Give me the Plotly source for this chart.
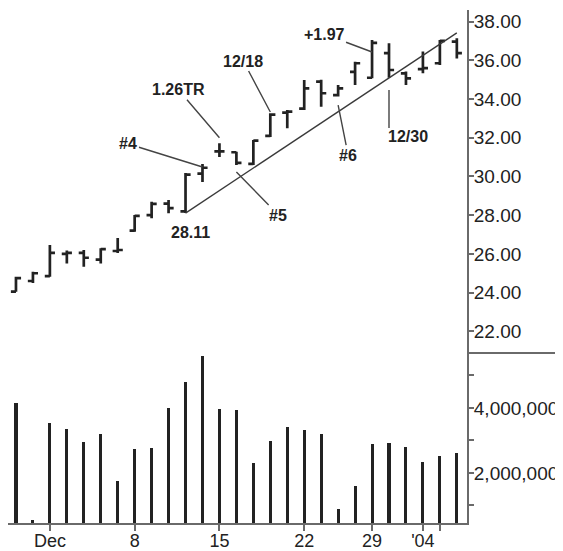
import plotly.graph_objects as go

# ---- data ----
dates = ["2003-11-26", "2003-11-28", "2003-12-01", "2003-12-02", "2003-12-03",
         "2003-12-04", "2003-12-05", "2003-12-08", "2003-12-09", "2003-12-10",
         "2003-12-11", "2003-12-12", "2003-12-15", "2003-12-16", "2003-12-17",
         "2003-12-18", "2003-12-19", "2003-12-22", "2003-12-23", "2003-12-24",
         "2003-12-26", "2003-12-29", "2003-12-30", "2003-12-31", "2004-01-02",
         "2004-01-05", "2004-01-06"]
opens = [24.05, 24.60, 24.85, 26.00, 26.05, 25.70, 26.15, 27.20, 28.00, 28.60,
         28.20, 30.15, 31.30, 31.25, 30.65, 32.10, 33.30, 33.50, 34.90, 34.20,
         35.40, 35.10, 36.37, 35.33, 35.55, 35.85, 36.97]
highs = [24.82, 25.08, 26.46, 26.17, 26.20, 26.29, 26.82, 28.01, 28.70, 28.79,
         30.18, 30.65, 31.71, 31.28, 31.89, 33.27, 33.44, 34.99, 35.00, 34.73,
         35.93, 37.05, 36.88, 35.42, 36.45, 37.05, 37.14]
lows = [24.05, 24.50, 24.82, 25.51, 25.34, 25.51, 26.05, 27.15, 27.84, 28.10,
        28.11, 29.72, 31.00, 30.59, 30.59, 32.04, 32.49, 33.44, 33.60, 34.13,
        34.73, 35.08, 35.10, 34.73, 35.33, 35.76, 36.10]
closes = [24.75, 25.00, 26.05, 26.05, 25.80, 26.25, 26.20, 27.96, 28.58, 28.36,
          30.10, 30.45, 31.30, 30.70, 31.85, 33.20, 33.35, 34.55, 34.30, 34.55,
          35.85, 36.90, 35.50, 35.07, 35.60, 37.00, 36.37]
volumes = [4160000, 550000, 3530000, 3340000, 2960000, 3190000, 1760000, 2740000,
           2780000, 4010000, 4790000, 5610000, 3970000, 3940000, 2300000, 2990000,
           3410000, 3310000, 3190000, 880000, 1600000, 2890000, 2930000, 2790000,
           2330000, 2520000, 2620000]

trend_dates = ["2003-12-11", "2004-01-06"]
trend_vals = [28.11, 37.42]

x_tick_vals = ["2003-12-01", "2003-12-08", "2003-12-15", "2003-12-22",
               "2003-12-29", "2004-01-02", "2004-01-05"]
x_tick_text = ["Dec", "8", "15", "22", "29", "'04", ""]

price_ticks = [22, 24, 26, 28, 30, 32, 34, 36, 38]
vol_ticks = [1000000, 2000000, 3000000, 4000000, 5000000]
vol_tick_text = ["", "2,000,000", "", "4,000,000", ""]

INK = "#222222"
AXIS = "#6a6a6a"
FONT = "Liberation Sans, Arial, sans-serif"

fig = go.Figure()
fig.add_trace(go.Ohlc(
    x=dates, open=opens, high=highs, low=lows, close=closes,
    increasing=dict(line=dict(color=INK, width=2.7)),
    decreasing=dict(line=dict(color=INK, width=2.7)),
    tickwidth=0.3, xaxis="x", yaxis="y", showlegend=False, hoverinfo="skip"))
fig.add_trace(go.Scatter(
    x=trend_dates, y=trend_vals, mode="lines",
    line=dict(color="#3a3a3a", width=1.4), xaxis="x", yaxis="y",
    showlegend=False, hoverinfo="skip"))
fig.add_trace(go.Bar(
    x=dates, y=volumes, width=0.18, marker=dict(color=INK, line=dict(width=0)),
    xaxis="x2", yaxis="y2", showlegend=False, hoverinfo="skip"))

split = (523 - 353) / 513.0

xr = [-0.47, 26.6]
tickfont = dict(family=FONT, size=19, color=INK)
# page body has an 8px margin: figure is sized/offset to compensate
fig.update_layout(
    width=555, height=543,
    margin=dict(l=0, r=96, t=2, b=28),
    paper_bgcolor="white", plot_bgcolor="white",
    font=dict(family=FONT, size=18, color=INK),
    bargap=0,
    xaxis=dict(type="category", domain=[0, 1], anchor="y", range=xr,
               matches="x2", visible=False, rangeslider=dict(visible=False),
               showgrid=False, zeroline=False, automargin=False),
    xaxis2=dict(type="category", domain=[0, 1], anchor="y2", range=xr,
                showgrid=False, zeroline=False, showline=True,
                linecolor=AXIS, linewidth=2, automargin=False,
                tickmode="array", tickvals=x_tick_vals, ticktext=x_tick_text,
                ticks="outside", ticklen=6, tickwidth=1.5, tickcolor=AXIS,
                tickfont=dict(family=FONT, size=18, color=INK),
                ticklabelstandoff=-6),
    yaxis=dict(domain=[split, 1], anchor="x", side="right", range=[20.88, 38.6],
               showgrid=False, zeroline=False, showline=True,
               linecolor=AXIS, linewidth=2, automargin=False,
               tickmode="array", tickvals=price_ticks,
               ticktext=["%.2f" % v for v in price_ticks],
               ticks="outside", ticklen=5, tickwidth=1.5, tickcolor=AXIS,
               tickfont=tickfont, ticklabelstandoff=-4),
    yaxis2=dict(domain=[0, split], anchor="x2", side="right",
                range=[460000, 5690000],
                showgrid=False, zeroline=False, showline=True,
                linecolor=AXIS, linewidth=2, automargin=False,
                tickmode="array", tickvals=vol_ticks, ticktext=vol_tick_text,
                ticks="outside", ticklen=5, tickwidth=1.5, tickcolor=AXIS,
                tickfont=tickfont, ticklabelstandoff=-4),
)

# panel divider to the right of the axis
fig.add_shape(type="line", xref="paper", yref="paper", x0=1, x1=1.3,
              y0=split, y1=split, line=dict(color=AXIS, width=2))

# vertical leader for 12/30
fig.add_shape(type="line", xref="x", yref="y", x0="2003-12-30", x1="2003-12-30",
              y0=34.47, y1=32.51, line=dict(color="#444444", width=1.4))

afont = dict(family=FONT, size=16, color=INK, weight="bold")
ann = [
    # text, target x, target y, ax, ay
    ("1.26TR", "2003-12-15", 32.0, -41, -48),
    ("#4", "2003-12-12", 30.49, -74, -23),
    ("#5", "2003-12-16", 30.23, 42, 43),
    ("12/18", "2003-12-18", 33.33, -27, -51),
    ("#6", "2003-12-24", 33.69, 10, 50),
    ("+1.97", "2003-12-29", 36.43, -48, -18),
]
for t, x, y, ax, ay in ann:
    fig.add_annotation(x=x, y=y, xref="x", yref="y", text=t, showarrow=True,
                       arrowhead=0, arrowwidth=1.4, arrowcolor="#444444",
                       ax=ax, ay=ay, font=afont, standoff=0)

fig.add_annotation(x="2003-12-11", y=27.12, xref="x", yref="y", text="28.11",
                   showarrow=False, xshift=5, font=afont)
fig.add_annotation(x="2003-12-30", y=32.05, xref="x", yref="y", text="12/30",
                   showarrow=False, xanchor="left", yanchor="middle", xshift=-3,
                   font=afont)

fig.write_html("out.html")
